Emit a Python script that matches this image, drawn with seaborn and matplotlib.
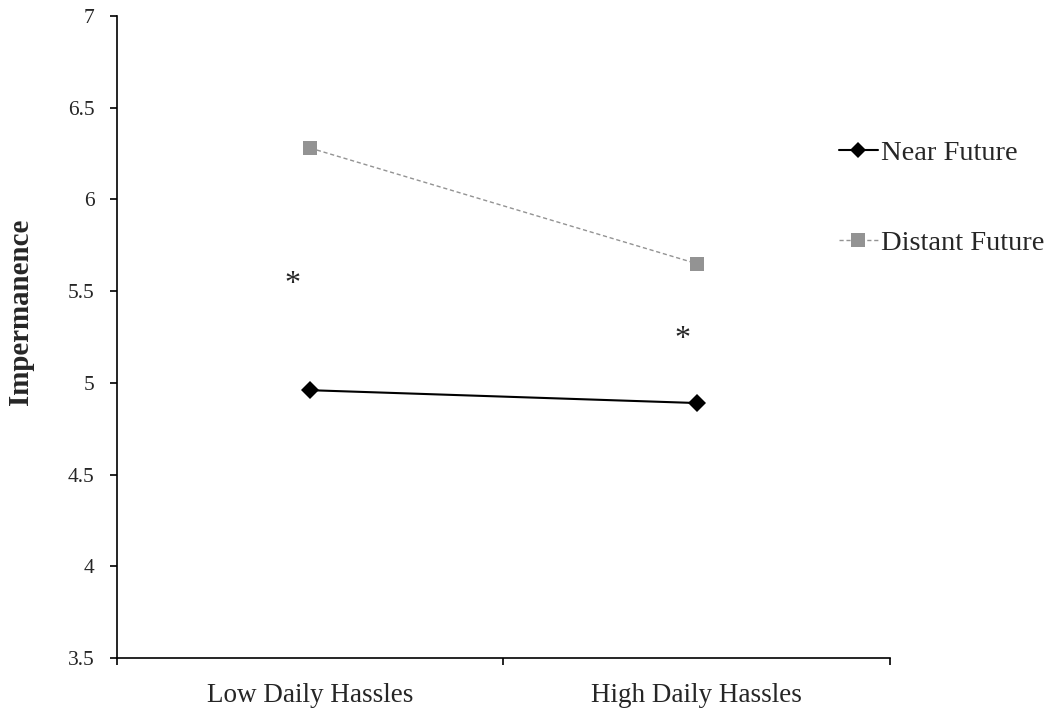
import matplotlib
matplotlib.use("Agg")
import matplotlib.pyplot as plt
import seaborn as sns
import pandas as pd

# Group means of perceived impermanence
conditions = ["Low Daily Hassles", "High Daily Hassles"]
near_future = [4.96, 4.89]
distant_future = [6.28, 5.65]
series_names = ["Near Future", "Distant Future"]

# Significance markers (condition index, height)
star_x = [-0.047, 0.962]
star_y = [5.535, 5.235]

df = pd.DataFrame({
    "condition": conditions * 2,
    "series": [series_names[0]] * 2 + [series_names[1]] * 2,
    "value": near_future + distant_future,
})

sns.set_style("white")
plt.rcParams["font.family"] = ["Liberation Serif", "DejaVu Serif"]

fig = plt.figure(figsize=(10.47, 7.13), dpi=100)
ax = fig.add_axes([0.1117, 0.0771, 0.7383, 0.9005])

sns.lineplot(
    data=df, x="condition", y="value", hue="series", style="series",
    palette={series_names[0]: "black", series_names[1]: "#939393"},
    markers={series_names[0]: "D", series_names[1]: "s"},
    dashes={series_names[0]: "", series_names[1]: (3, 2)},
    markersize=9, markeredgewidth=0, ax=ax, legend=False, sort=False,
)
# line widths per series
lines = ax.get_lines()
lines[0].set_linewidth(1.5)
lines[0].set_markersize(9)
lines[1].set_linewidth(1.0)
lines[1].set_markersize(10.5)

for x, y in zip(star_x, star_y):
    ax.text(x, y, "*", fontsize=23, ha="center", va="center")

ax.set_xlim(-0.5, 1.5)
ax.set_ylim(3.5, 7)
ax.set_yticks([3.5, 4, 4.5, 5, 5.5, 6, 6.5, 7])
ax.set_yticklabels(["3.5", "4", "4.5", "5", "5.5", "6", "6.5", "7"])
ax.set_xticks([-0.5, 0.5, 1.5])
ax.set_xticklabels([])
ax.set_xticks([0, 1], minor=True)
ax.set_xticklabels(conditions, minor=True)
ax.tick_params(axis="x", which="major", direction="out", length=5, width=1.2,
               bottom=True, color="black")
ax.tick_params(axis="x", which="minor", length=0, labelsize=19.5, pad=18)
ax.tick_params(axis="y", direction="out", length=5, width=1.2, left=True,
               labelsize=15.5, pad=11, color="black")

ax.set_xlabel("")
ax.set_ylabel("Impermanence", fontsize=20.8, fontweight="bold")
ax.yaxis.set_label_coords(-0.107, 0.540)

for side in ["top", "right"]:
    ax.spines[side].set_visible(False)
for side in ["left", "bottom"]:
    ax.spines[side].set_color("black")
    ax.spines[side].set_linewidth(1.2)

handles = [
    plt.Line2D([], [], color="black", lw=1.5, marker="D", markersize=8,
               markeredgewidth=0),
    plt.Line2D([], [], color="#939393", lw=1.0, ls=(0, (3, 2)), marker="s",
               markersize=10, markeredgewidth=0),
]
fig.legend(handles, series_names, loc="upper left",
           bbox_to_anchor=(0.79, 0.82), frameon=False, fontsize=20.5,
           handlelength=1.4, handletextpad=0.1, labelspacing=2.25,
           borderaxespad=0)

fig.savefig("out.png", dpi=100)
